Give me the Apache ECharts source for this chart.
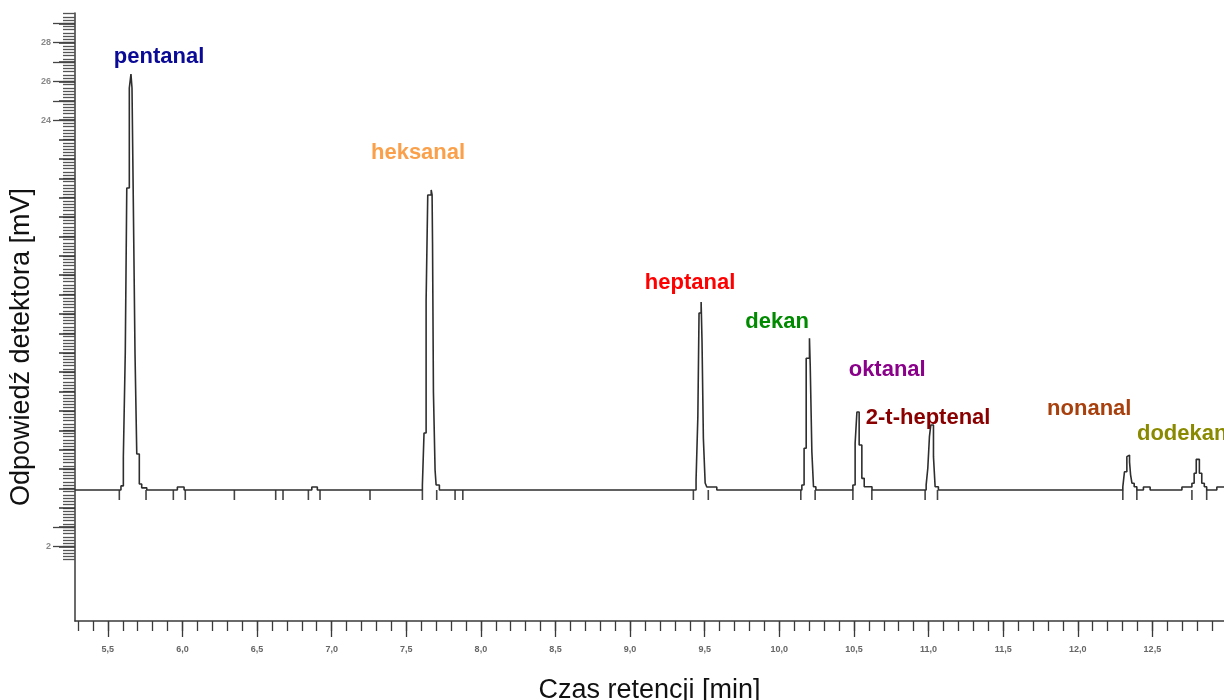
<!DOCTYPE html>
<html><head><meta charset="utf-8">
<script src="https://cdn.jsdelivr.net/npm/echarts@6/dist/echarts.min.js"></script>
<style>html,body{margin:0;padding:0;background:#fff}#chart{width:1224px;height:700px}</style>
</head><body><div id="chart"></div>
<script>
// ---- data ----
const traceTime = [
  5.280, 5.588, 5.604, 5.617, 5.627, 5.644, 5.655, 5.662, 5.671, 5.682, 5.694, 5.711, 5.727, 5.761,
  5.966, 6.011, 6.650, 6.658, 6.867, 6.904,
  7.608, 7.619, 7.633, 7.644, 7.667, 7.673, 7.676, 7.682, 7.693, 7.700, 7.722,
  9.442, 9.454, 9.462, 9.476, 9.482, 9.491, 9.503, 9.514, 9.581,
  10.151, 10.166, 10.180, 10.202, 10.207, 10.218, 10.229, 10.245, 10.355, 10.362,
  10.493, 10.508, 10.520, 10.535, 10.553, 10.569, 10.621,
  10.984, 10.995, 11.006, 11.015, 11.033, 11.044, 11.066,
  12.302, 12.313, 12.329, 12.340, 12.347, 12.354, 12.363, 12.378, 12.396, 12.440, 12.485,
  12.698, 12.765, 12.780, 12.794, 12.815, 12.831, 12.848, 12.864, 12.932, 12.980
];
const traceSignal = [
  4.92, 5.13, 6.62, 12.04, 20.50, 25.66, 26.38, 25.66, 19.63, 12.04, 6.78, 5.23, 5.03, 4.92,
  5.07, 4.92, 5.02, 4.92, 5.07, 4.92,
  5.18, 7.86, 14.72, 20.14, 20.40, 20.14, 17.67, 9.98, 5.95, 5.18, 4.92,
  5.44, 8.70, 14.05, 14.62, 12.57, 7.59, 5.28, 5.07, 4.92,
  5.18, 7.07, 11.72, 12.75, 11.37, 6.90, 5.09, 4.92, 5.02, 4.92,
  5.18, 7.33, 8.94, 7.24, 5.52, 5.09, 4.92,
  5.18, 6.04, 7.67, 8.27, 6.64, 5.09, 4.92,
  5.09, 5.86, 6.64, 6.72, 6.36, 5.70, 5.27, 5.09, 4.92, 5.07, 4.92,
  5.07, 5.27, 5.78, 6.50, 5.78, 5.27, 5.09, 4.92, 5.07, 5.07
];
const markerTimes = [
  5.577, 5.756, 5.939, 6.019, 6.348, 6.625, 6.674, 6.844, 6.922, 7.257,
  7.608, 7.704, 7.827, 7.879, 9.424, 9.524, 10.144, 10.240, 10.493, 10.620,
  10.977, 11.060, 12.302, 12.396, 12.765, 12.864
];
const baselineSignal = 4.92;
const peakNames = ['pentanal', 'heksanal', 'heptanal', 'dekan', 'oktanal', '2-t-heptenal', 'nonanal', 'dodekan'];
const labelTimes = [5.843, 7.579, 9.402, 9.985, 10.723, 10.997, 12.077, 12.700];
const labelSignals = [27.26, 22.31, 15.60, 13.59, 11.11, 8.63, 9.10, 7.81];
const peakColors = ['#0a0a96', '#fba04a', '#ff0000', '#008a00', '#8a008a', '#8a0000', '#a8400e', '#8a8a00'];
const xTickLabels = [5.5, 6.0, 6.5, 7.0, 7.5, 8.0, 8.5, 9.0, 9.5, 10.0, 10.5, 11.0, 11.5, 12.0, 12.5];
const yTickLabels = [2, 24, 26, 28];
const yLongTicks = [3, 25, 27, 29];

// ---- axis tick positions ----
const xMinorTicks = [];
for (let i = 53; i <= 129; i++) xMinorTicks.push(i / 10);
const yMinorTicks = [];
for (let i = 8; i <= 177; i++) yMinorTicks.push(i / 6);
const yMediumTicks = [];
for (let i = 2; i <= 29; i++) yMediumTicks.push(i);

const FONT = "'Liberation Sans', Arial, Helvetica, sans-serif";
const axisCol = '#3a3a3a';
const xRange = {min: 5.28, max: 12.98};
const yRange = {min: -1.84, max: 29.53};

const chart = echarts.init(document.getElementById('chart'), null, {renderer: 'canvas'});
chart.setOption({
  backgroundColor: '#ffffff',
  animation: false,
  grid: {left: 75, right: 0, top: 13, bottom: 79, containLabel: false, outerBoundsMode: 'none'},
  xAxis: [
    {
      type: 'value', min: xRange.min, max: xRange.max, position: 'bottom',
      axisLine: {show: true, onZero: false, lineStyle: {color: axisCol, width: 1.5}},
      axisTick: {show: true, inside: false, length: 10, customValues: xMinorTicks, lineStyle: {color: axisCol, width: 1.3}},
      axisLabel: {show: false},
      splitLine: {show: false},
      name: 'Czas retencji [min]', nameLocation: 'middle', nameGap: 56,
      nameTextStyle: {fontFamily: FONT, fontSize: 27, color: '#111'}
    },
    {
      type: 'value', min: xRange.min, max: xRange.max, position: 'bottom', gridIndex: 0,
      axisLine: {show: false, onZero: false},
      axisTick: {show: true, inside: false, length: 16, customValues: xTickLabels, lineStyle: {color: axisCol, width: 1.3}},
      axisLabel: {show: true, customValues: xTickLabels, margin: 24, fontFamily: FONT, fontSize: 9, color: '#666', fontWeight: 'bold',
        formatter: v => v.toFixed(1).replace('.', ',')},
      splitLine: {show: false}
    }
  ],
  yAxis: [
    {
      type: 'value', min: yRange.min, max: yRange.max, position: 'left',
      axisLine: {show: true, onZero: false, lineStyle: {color: axisCol, width: 1.5}},
      axisTick: {show: true, inside: false, length: 12, customValues: yMinorTicks, lineStyle: {color: '#555', width: 1.3}},
      axisLabel: {show: false},
      splitLine: {show: false},
      name: 'Odpowiedź detektora [mV]', nameLocation: 'middle', nameRotate: 90, nameGap: 40,
      nameTextStyle: {fontFamily: FONT, fontSize: 27, color: '#111', padding: [0, 60, 0, 0]}
    },
    {
      type: 'value', min: yRange.min, max: yRange.max, position: 'left',
      axisLine: {show: false, onZero: false},
      axisTick: {show: true, inside: false, length: 16, customValues: yMediumTicks, lineStyle: {color: '#333', width: 1.5}},
      axisLabel: {show: false},
      splitLine: {show: false}
    },
    {
      type: 'value', min: yRange.min, max: yRange.max, position: 'left',
      axisLine: {show: false, onZero: false},
      axisTick: {show: true, inside: false, length: 22, customValues: yTickLabels.concat(yLongTicks), lineStyle: {color: '#444', width: 1.3}},
      axisLabel: {show: true, customValues: yTickLabels, margin: 24, fontFamily: FONT, fontSize: 9, fontWeight: 'bold', color: '#888'},
      splitLine: {show: false}
    }
  ],
  series: [
    {
      type: 'line', xAxisIndex: 0, yAxisIndex: 0, step: 'end', showSymbol: false, silent: true,
      data: traceTime.map((t, i) => [t, traceSignal[i]]),
      lineStyle: {color: '#2e2e2e', width: 1.6}
    },
    {
      type: 'scatter', xAxisIndex: 0, yAxisIndex: 0, silent: true,
      symbol: 'rect', symbolSize: [1.6, 10], symbolOffset: [0, 5],
      itemStyle: {color: '#444', opacity: 1},
      data: markerTimes.map(t => [t, baselineSignal])
    },
    {
      type: 'scatter', xAxisIndex: 0, yAxisIndex: 0, silent: true, symbolSize: 0,
      itemStyle: {opacity: 1},
      data: peakNames.map((n, i) => ({
        name: n, value: [labelTimes[i], labelSignals[i]],
        label: {color: peakColors[i]}
      })),
      label: {show: true, position: 'inside', formatter: p => p.name,
        fontFamily: FONT, fontSize: 22, fontWeight: 'bold', opacity: 1}
    }
  ]
});
</script>
</body></html>
